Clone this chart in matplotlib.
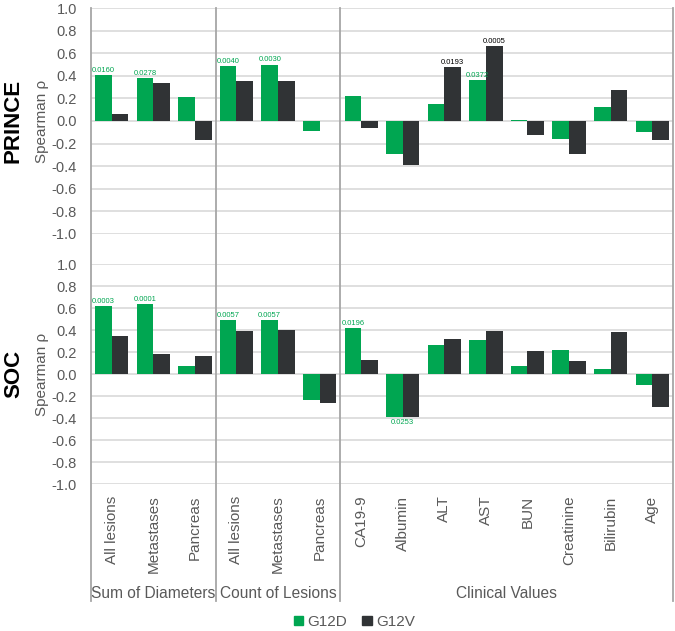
import numpy as np
import matplotlib.pyplot as plt
from matplotlib.lines import Line2D
from matplotlib.patches import Patch
import matplotlib.transforms as mtransforms

plt.rcParams['font.family'] = ['Liberation Sans', 'DejaVu Sans']

categories = ['All lesions', 'Metastases', 'Pancreas',
              'All lesions', 'Metastases', 'Pancreas',
              'CA19-9', 'Albumin', 'ALT', 'AST', 'BUN', 'Creatinine', 'Bilirubin', 'Age']
groups = ['Sum of Diameters', 'Count of Lesions', 'Clinical Values']
group_sizes = [3, 3, 8]
yticks = [-1.0, -0.8, -0.6, -0.4, -0.2, 0.0, 0.2, 0.4, 0.6, 0.8, 1.0]

prince_g12d = [0.41, 0.38, 0.21, 0.49, 0.50, -0.09,
               0.22, -0.29, 0.15, 0.36, 0.01, -0.16, 0.12, -0.10]
prince_g12v = [0.065, 0.34, -0.165, 0.35, 0.35, 0.0,
               -0.065, -0.39, 0.48, 0.66, -0.125, -0.29, 0.275, -0.17]
soc_g12d = [0.62, 0.64, 0.075, 0.49, 0.49, -0.23,
            0.42, -0.385, 0.265, 0.31, 0.073, 0.22, 0.045, -0.097]
soc_g12v = [0.35, 0.18, 0.165, 0.39, 0.40, -0.26,
            0.125, -0.385, 0.32, 0.39, 0.21, 0.12, 0.38, -0.30]

# p-value labels: (category index, series, text)
prince_p = [(0, 'G12D', '0.0160'), (1, 'G12D', '0.0278'), (3, 'G12D', '0.0040'),
            (4, 'G12D', '0.0030'), (8, 'G12V', '0.0193'), (9, 'G12D', '0.0372'),
            (9, 'G12V', '0.0005')]
soc_p = [(0, 'G12D', '0.0003'), (1, 'G12D', '0.0001'), (3, 'G12D', '0.0057'),
         (4, 'G12D', '0.0057'), (6, 'G12D', '0.0196'), (7, 'G12D', '0.0253')]

green = '#00a651'
dark = '#303335'
gray_txt = '#595959'
grid_c = '#d9d9d9'
sep_c = '#a6a6a6'

fig = plt.figure(figsize=(6.75, 6.31), dpi=100)
ax_top = fig.add_axes([0.1348, 0.6292, 0.8622, 0.3581])
ax_bot = fig.add_axes([0.1348, 0.2322, 0.8622, 0.3494])

x = np.arange(len(categories))
w = 0.4


def draw_panel(ax, d, v, pvals, name):
    ax.bar(x - w / 2, d, w, color=green, zorder=3)
    ax.bar(x + w / 2, v, w, color=dark, zorder=3)
    ax.set_xlim(-0.5, len(categories) - 0.5)
    ax.set_ylim(-1.0, 1.0)
    ax.set_yticks(yticks)
    ax.set_yticklabels(['%.1f' % t for t in yticks])
    ax.yaxis.grid(True, color=grid_c, linewidth=1.2, zorder=0)
    ax.tick_params(axis='y', length=0, pad=10, labelsize=10.5, labelcolor=gray_txt)
    for s in ax.spines.values():
        s.set_visible(False)
    ax.set_ylabel('Spearman ρ', color=gray_txt, fontsize=11, labelpad=2)
    for i, ser, txt in pvals:
        if ser == 'G12D':
            xi, val, col = i - w / 2, d[i], green
        else:
            xi, val, col = i + w / 2, v[i], 'black'
        if val >= 0:
            ax.text(xi, val + 0.01, txt, ha='center', va='bottom', fontsize=5.5, color=col, zorder=4)
        else:
            ax.text(xi + w / 2, val - 0.02, txt, ha='center', va='top', fontsize=5.5, color=col, zorder=4)
    tr = mtransforms.blended_transform_factory(fig.transFigure, ax.transAxes)
    ax.text(0.02, 0.5, name, transform=tr, rotation=90, ha='center', va='center',
            fontsize=16, fontweight='bold', color='black')


draw_panel(ax_top, prince_g12d, prince_g12v, prince_p, 'PRINCE')
draw_panel(ax_bot, soc_g12d, soc_g12v, soc_p, 'SOC')

ax_top.set_xticks([])
ax_bot.set_xticks(x)
ax_bot.set_xticklabels(categories, rotation=90, fontsize=11, color=gray_txt)
ax_bot.tick_params(axis='x', length=0, pad=8)

# separators through both panels and the label area
trans = mtransforms.blended_transform_factory(ax_bot.transData, fig.transFigure)
bounds = np.concatenate([[0], np.cumsum(group_sizes)]) - 0.5
for b in bounds:
    fig.add_artist(Line2D([b, b], [0.0475, 0.9873], transform=trans, color=sep_c, linewidth=1.3, zorder=5))

starts = np.cumsum([0] + group_sizes[:-1])
for g, s0, n in zip(groups, starts, group_sizes):
    fig.text(0, 0.0602, g, transform=trans, fontsize=11.2, color=gray_txt, ha='center', va='center')
    fig.texts[-1].set_x(s0 + (n - 1) / 2)

handles = [Patch(color=green, label='G12D'), Patch(color=dark, label='G12V')]
fig.legend(handles=handles, loc='center', bbox_to_anchor=(0.525, 0.0143), ncol=2, frameon=False,
           fontsize=11, handlelength=0.6, handleheight=0.6, handletextpad=0.3, columnspacing=1.0,
           labelcolor=gray_txt)

fig.savefig('out.png', dpi=100)
